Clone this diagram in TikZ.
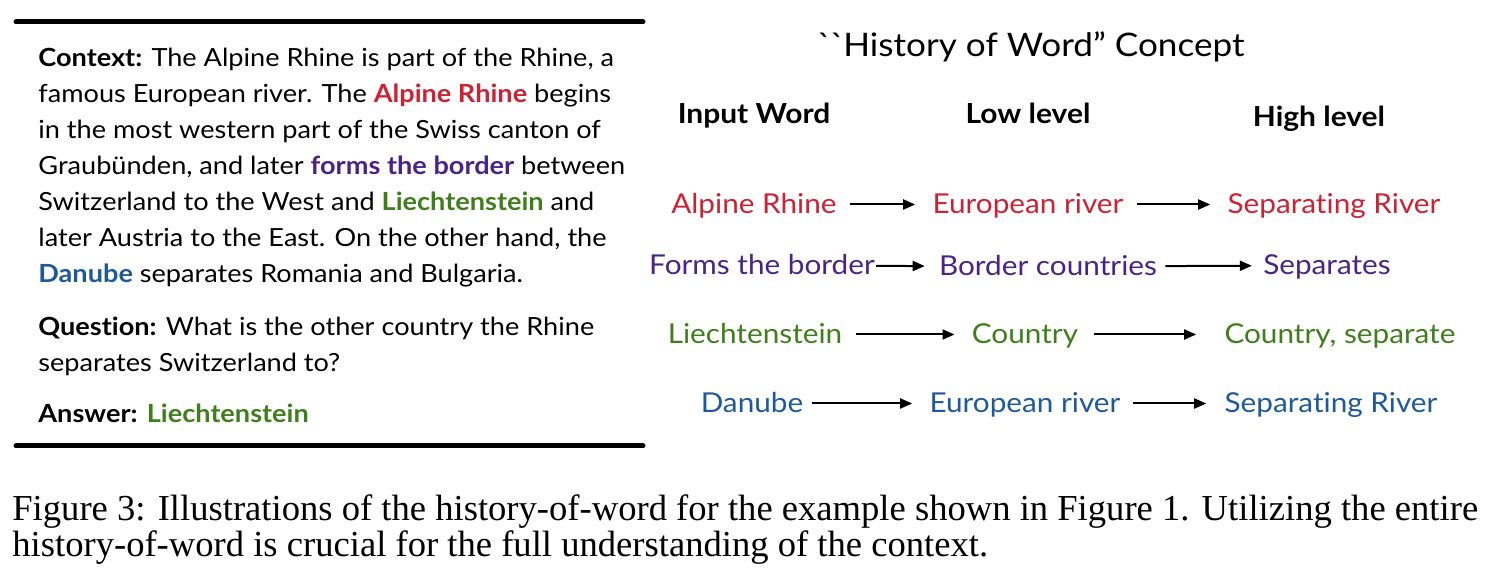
\documentclass[tikz,border=0pt]{standalone}
\usepackage{fontspec}
\setmainfont{Lato}[FakeStretch=1.085, Ligatures={TeX,NoCommon,NoContextual}]
\newfontfamily\capfont{Liberation Serif}
\usetikzlibrary{arrows.meta}

\definecolor{wordred}{HTML}{CC2233}
\definecolor{wordpurple}{HTML}{4B2387}
\definecolor{wordgreen}{HTML}{3E7F1C}
\definecolor{wordblue}{HTML}{1E5A99}

\tikzset{
  rule/.style={line width=2.5pt, line cap=round},
  para/.style={anchor=base west, align=left, inner sep=0pt, font=\fontsize{12.5}{18}\selectfont},
  head/.style={anchor=base, inner sep=0pt, font=\fontsize{13.8}{16}\selectfont\bfseries},
  word/.style={anchor=base, inner sep=0pt, text height=9.5pt, text depth=0pt, font=\fontsize{13.7}{16}\selectfont},
  flow/.style={line width=1pt, -{Triangle[length=6pt,width=5pt]}, shorten <=6.5pt, shorten >=8.5pt},
  capline/.style={anchor=base west, inner sep=0pt, font=\capfont\fontsize{18.3}{18}\selectfont}
}

\begin{document}
\begin{tikzpicture}[x=0.5pt, y=-0.5pt]
    \useasboundingbox (0,0) rectangle (1496,582);

    % Caixa de contexto
    \draw[rule] (16,22) -- (643,22);
    \draw[rule] (16,446) -- (643,446);

    % (base = linha final de cada paragrafo)
    \node[para] (context) at (38,283) {\textbf{Context:} The Alpine Rhine is part of the Rhine, a\\
      famous European river. The \textcolor{wordred}{\textbf{Alpine Rhine}} begins\\
      in the most western part of the Swiss canton of\\
      Graubünden, and later \textcolor{wordpurple}{\textbf{forms the border}} between\\
      Switzerland to the West and \textcolor{wordgreen}{\textbf{Liechtenstein}} and\\
      later Austria to the East. On the other hand, the\\
      \textcolor{wordblue}{\textbf{Danube}} separates Romania and Bulgaria.};
    \node[para] (question) at (38,372) {\textbf{Question:} What is the other country the Rhine\\
      separates Switzerland to?};
    \node[para] (answer) at (38,423) {\textbf{Answer:} \textcolor{wordgreen}{\textbf{Liechtenstein}}};

    % Titulo e cabecalhos
    \node[anchor=base, inner sep=0pt, font=\fontsize{16.2}{20}\selectfont] (title) at (1031,57)
      {\textasciigrave\textasciigrave History of Word” Concept};
    \node[head] (hinput) at (754,124) {Input Word};
    \node[head] (hlow) at (1028,124) {Low level};
    \node[head] (hhigh) at (1319,127) {High level};

    % Linha 1: Alpine Rhine
    \node[word, wordred] (r1a) at (754,214) {Alpine Rhine};
    \node[word, wordred] (r1b) at (1028,214) {European river};
    \node[word, wordred] (r1c) at (1334,214) {Separating River};
    \draw[flow] (r1a) -- (r1b);
    \draw[flow] (r1b) -- (r1c);

    % Linha 2: forms the border
    \node[word, wordpurple] (r2a) at (762,275) {Forms the border};
    \node[word, wordpurple] (r2b) at (1048,276) {Border countries};
    \node[word, wordpurple] (r2c) at (1327,275) {Separates};
    \draw[flow, shorten <=0.5pt, shorten >=7pt] (r2a) -- (r2b);
    \draw[flow, shorten <=4pt, shorten >=5.5pt] (r2b) -- (r2c);

    % Linha 3: Liechtenstein
    \node[word, wordgreen] (r3a) at (755,344) {Liechtenstein};
    \node[word, wordgreen] (r3b) at (1025,344) {Country};
    \node[word, wordgreen] (r3c) at (1340,344) {Country, separate};
    \draw[flow] (r3a) -- (r3b);
    \draw[flow, shorten <=8pt, shorten >=14pt] (r3b) -- (r3c);

    % Linha 4: Danube
    \node[word, wordblue] (r4a) at (752,413) {Danube};
    \node[word, wordblue] (r4b) at (1025,413) {European river};
    \node[word, wordblue] (r4c) at (1331,413) {Separating River};
    \draw[flow, shorten <=4pt] (r4a) -- (r4b);
    \draw[flow, shorten <=6pt, shorten >=9pt] (r4b) -- (r4c);

    % Legenda
    \node[capline] (cap1) at (12,521) {Figure 3: Illustrations of the history-of-word for the example shown in Figure 1. Utilizing the entire};
    \node[capline] (cap2) at (12,557) {history-of-word is crucial for the full understanding of the context.};
\end{tikzpicture}
\end{document}
